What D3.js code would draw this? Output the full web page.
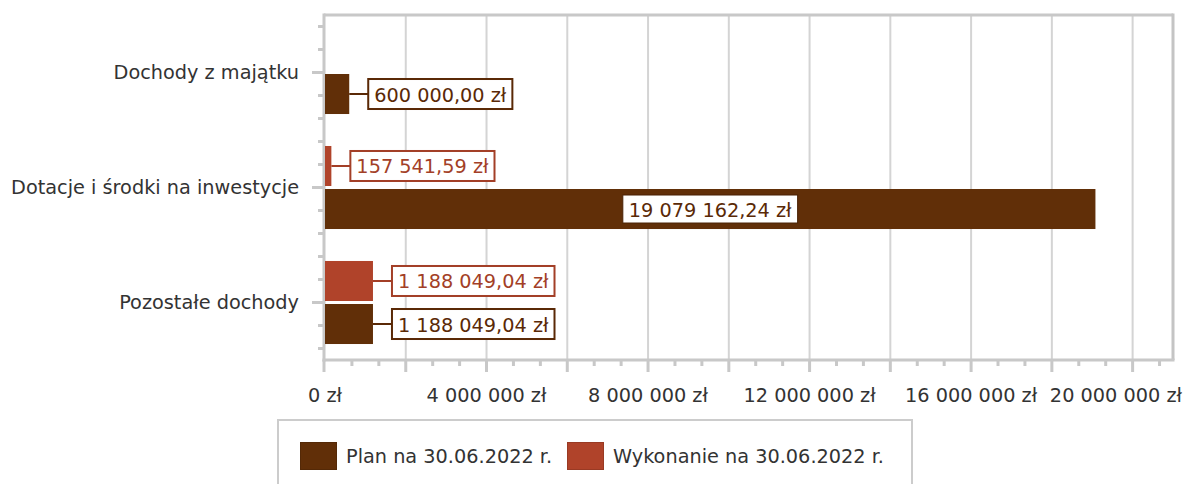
<!DOCTYPE html>
<html>
<head>
<meta charset="utf-8">
<script src="https://cdn.jsdelivr.net/npm/d3@7"></script>
<style>
  body { margin: 0; background: #fff; }
  text { font-family: 'DejaVu Sans', sans-serif; font-size: 19.3px; }
</style>
</head>
<body>
<div class="canvas"></div>
<script>
const categories = ['Dochody z majątku', 'Dotacje i środki na inwestycje', 'Pozostałe dochody'];
const seriesNames = ['Plan na 30.06.2022 r.', 'Wykonanie na 30.06.2022 r.'];
const planValues = [600000.0, 19079162.24, 1188049.04];
const wykonanieValues = [null, 157541.59, 1188049.04];
const tickValues = [0, 4000000, 8000000, 12000000, 16000000, 20000000];

const colors = { plan: '#612f08', wyk: '#b0432a' };
const labelColors = { plan: '#5a2906', wyk: '#a33f27' };

const pl = d3.formatLocale({
  decimal: ',',
  thousands: ' ',
  grouping: [3],
  currency: ['', ' zł']
});
const fmtValue = pl.format('$,.2f');
const fmtTick = pl.format('$,.0f');

const width = 1183;
const height = 484;
const plot = { left: 324, right: 1173, top: 15, bottom: 360 };

const svg = d3
  .select('.canvas')
  .append('svg')
  .attr('width', width)
  .attr('height', height);

const x = d3.scaleLinear().domain([0, 21000000]).range([plot.left + 1, plot.right]);

const y0 = d3
  .scaleBand()
  .domain(categories)
  .range([plot.top, plot.bottom])
  .paddingInner(0.278)
  .paddingOuter(0.139);

const y1 = d3
  .scaleBand()
  .domain(['wyk', 'plan'])
  .range([0, y0.bandwidth()])
  .paddingInner(0.07);

// gridlines every 2M
const majorTicks = d3.range(0, 21000000, 2000000);
const minorTicks = d3.range(0, 21000001, 2000000 / 3).filter(v => Math.round(v) % 2000000 !== 0);

svg
  .append('g')
  .selectAll('line')
  .data(majorTicks.slice(1))
  .join('line')
  .attr('x1', d => x(d))
  .attr('x2', d => x(d))
  .attr('y1', plot.top)
  .attr('y2', plot.bottom)
  .attr('stroke', '#d4d4d4')
  .attr('stroke-width', 2);

// frame
svg
  .append('line')
  .attr('x1', plot.left)
  .attr('x2', plot.right)
  .attr('y1', plot.top)
  .attr('y2', plot.top)
  .attr('stroke', '#c8c8c8')
  .attr('stroke-width', 3);
svg
  .append('line')
  .attr('x1', plot.right)
  .attr('x2', plot.right)
  .attr('y1', plot.top - 1.5)
  .attr('y2', plot.bottom)
  .attr('stroke', '#c4c4c4')
  .attr('stroke-width', 3);

// x axis
const xAxis = svg.append('g');
xAxis
  .append('line')
  .attr('x1', plot.left - 1.5)
  .attr('x2', plot.right + 1.5)
  .attr('y1', plot.bottom)
  .attr('y2', plot.bottom)
  .attr('stroke', '#c8c8c8')
  .attr('stroke-width', 3);
xAxis
  .selectAll('.major')
  .data(majorTicks)
  .join('line')
  .attr('x1', d => (d === 0 ? plot.left : x(d)))
  .attr('x2', d => (d === 0 ? plot.left : x(d)))
  .attr('y1', plot.bottom)
  .attr('y2', plot.bottom + 12)
  .attr('stroke', '#c8c8c8')
  .attr('stroke-width', 3);
xAxis
  .selectAll('.minor')
  .data(minorTicks)
  .join('line')
  .attr('x1', d => x(d))
  .attr('x2', d => x(d))
  .attr('y1', plot.bottom)
  .attr('y2', plot.bottom + 6)
  .attr('stroke', '#c8c8c8')
  .attr('stroke-width', 3);
xAxis
  .selectAll('text')
  .data(tickValues)
  .join('text')
  .attr('x', (d, i) => (i === tickValues.length - 1 ? width - 1 : x(d)))
  .attr('y', 395)
  .attr('text-anchor', (d, i) => (i === tickValues.length - 1 ? 'end' : 'middle'))
  .attr('dominant-baseline', 'central')
  .attr('fill', '#333')
  .text(d => fmtTick(d));

// y axis
const yAxis = svg.append('g');
yAxis
  .append('line')
  .attr('x1', plot.left)
  .attr('x2', plot.left)
  .attr('y1', plot.top - 1.5)
  .attr('y2', plot.bottom + 1.5)
  .attr('stroke', '#c8c8c8')
  .attr('stroke-width', 3);
categories.forEach(c => {
  const cy = y0(c) + y0.bandwidth() / 2;
  [-2, -1, 0, 1, 2].forEach(k => {
    yAxis
      .append('line')
      .attr('x1', plot.left - (k === 0 ? 12 : 6))
      .attr('x2', plot.left)
      .attr('y1', cy + k * 23)
      .attr('y2', cy + k * 23)
      .attr('stroke', '#c8c8c8')
      .attr('stroke-width', 3);
  });
});
yAxis
  .selectAll('text')
  .data(categories)
  .join('text')
  .attr('x', 299)
  .attr('y', d => y0(d) + y0.bandwidth() / 2 - 0.5)
  .attr('text-anchor', 'end')
  .attr('dominant-baseline', 'central')
  .attr('fill', '#333')
  .text(d => d);

// bars
const barData = [];
categories.forEach((c, i) => {
  if (wykonanieValues[i] != null) barData.push({ cat: c, key: 'wyk', value: wykonanieValues[i] });
  if (planValues[i] != null) barData.push({ cat: c, key: 'plan', value: planValues[i] });
});

const graph = svg.append('g');
graph
  .selectAll('rect')
  .data(barData)
  .join('rect')
  .attr('x', x(0))
  .attr('y', d => y0(d.cat) + y1(d.key))
  .attr('width', d => x(d.value) - x(0))
  .attr('height', y1.bandwidth())
  .attr('fill', d => colors[d.key]);

// value labels
const labels = svg.append('g');
barData.forEach(d => {
  const cy = y0(d.cat) + y1(d.key) + y1.bandwidth() / 2;
  const barW = x(d.value) - x(0);
  const g = labels.append('g');
  const t = g
    .append('text')
    .attr('dominant-baseline', 'central')
    .attr('fill', labelColors[d.key])
    .text(fmtValue(d.value));
  const tw = t.node().getComputedTextLength();
  const boxW = tw + 12;
  if (barW > boxW + 20) {
    const cx = x(0) + barW / 2;
    g.insert('rect', 'text')
      .attr('x', cx - boxW / 2)
      .attr('y', cy - 14)
      .attr('width', boxW)
      .attr('height', 28)
      .attr('fill', '#fff')
      .attr('stroke', '#4a2205')
      .attr('stroke-width', 1);
    t.attr('x', cx).attr('y', cy + 1).attr('text-anchor', 'middle');
  } else {
    const bx = x(d.value) + 19;
    g.insert('line', 'text')
      .attr('x1', x(d.value))
      .attr('x2', bx)
      .attr('y1', cy)
      .attr('y2', cy)
      .attr('stroke', labelColors[d.key])
      .attr('stroke-width', 2);
    g.insert('rect', 'text')
      .attr('x', bx)
      .attr('y', cy - 15)
      .attr('width', boxW)
      .attr('height', 30)
      .attr('fill', '#fff')
      .attr('stroke', labelColors[d.key])
      .attr('stroke-width', 2);
    t.attr('x', bx + 6).attr('y', cy + 1);
  }
});

// legend
const legend = svg.append('g');
legend
  .append('rect')
  .attr('x', 278)
  .attr('y', 420)
  .attr('width', 634)
  .attr('height', 80)
  .attr('fill', '#fff')
  .attr('stroke', '#cccccc')
  .attr('stroke-width', 2);

const legendItems = [
  { name: seriesNames[0], key: 'plan', x: 300 },
  { name: seriesNames[1], key: 'wyk', x: 567 }
];
legendItems.forEach(item => {
  legend
    .append('rect')
    .attr('x', item.x + 0.5)
    .attr('y', 442.5)
    .attr('width', 36)
    .attr('height', 27)
    .attr('fill', colors[item.key])
    .attr('stroke', d3.color(colors[item.key]).darker(0.4))
    .attr('stroke-width', 1);
  legend
    .append('text')
    .attr('x', item.x + 46)
    .attr('y', 456)
    .attr('dominant-baseline', 'central')
    .attr('fill', '#333')
    .text(item.name);
});
</script>
</body>
</html>
